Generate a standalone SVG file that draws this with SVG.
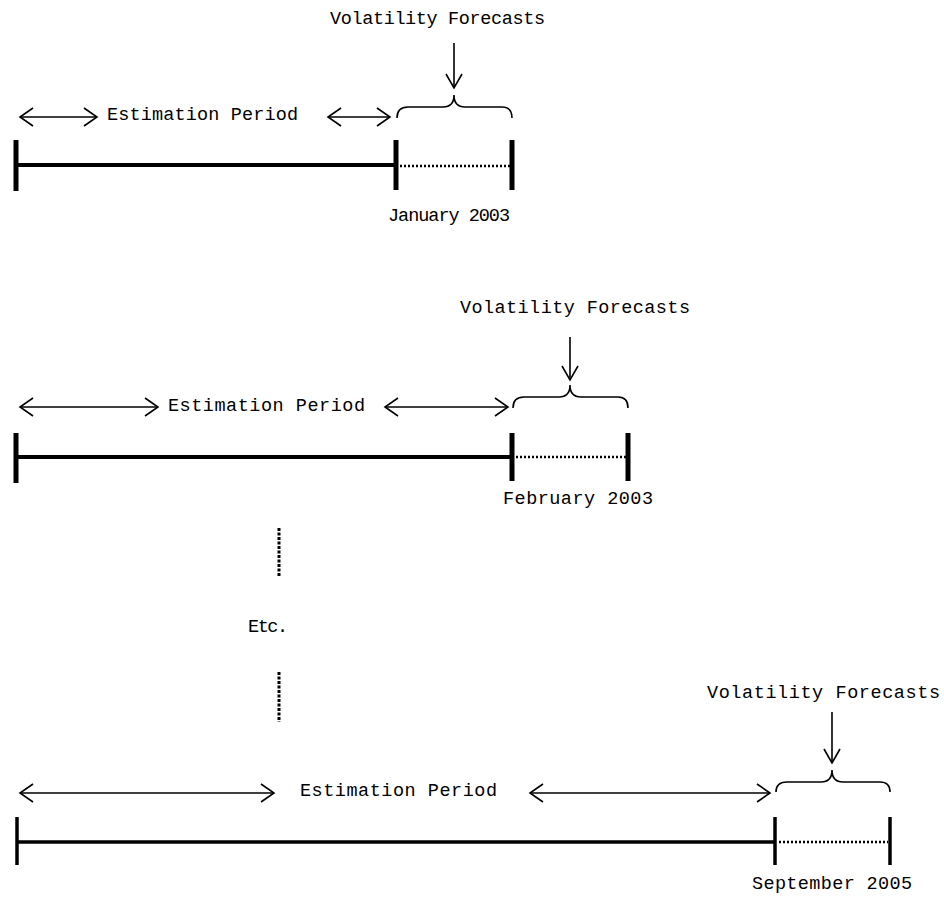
<svg xmlns="http://www.w3.org/2000/svg" width="944" height="899" viewBox="0 0 944 899">
<style>
text{font-family:"Liberation Mono","DejaVu Sans Mono",monospace;fill:#000}
.lbl{font-size:18.5px}
.tick{stroke:#000;stroke-width:5;fill:none}
.main{stroke:#000;stroke-width:4;fill:none}
.dot{stroke:#000;stroke-width:2.5;stroke-dasharray:2 2;fill:none}
.thin{stroke:#000;stroke-width:1.6;fill:none;stroke-linejoin:miter}
.vdot{stroke:#000;stroke-width:3;stroke-dasharray:3 1.5;fill:none}
</style>
<rect width="944" height="899" fill="#fff"/>

<g id="panel1">
  <line class="tick" x1="16" y1="140" x2="16" y2="191"/>
  <line class="main" x1="16" y1="165" x2="395" y2="165"/>
  <line class="tick" x1="396" y1="140" x2="396" y2="190"/>
  <line class="dot" x1="400" y1="166" x2="510" y2="166"/>
  <line class="tick" x1="512" y1="140" x2="512" y2="190"/>
  <text class="lbl" x="107" y="120" textLength="191" lengthAdjust="spacing">Estimation Period</text>
  <text class="lbl" x="330" y="24" textLength="215" lengthAdjust="spacing">Volatility Forecasts</text>
  <text class="lbl" x="388" y="221" textLength="122" lengthAdjust="spacing">January 2003</text>
  <g class="thin">
    <line x1="20" y1="117" x2="97" y2="117"/>
    <polyline points="33,108 20,117 33,126"/>
    <polyline points="84,108 97,117 84,126"/>
    <line x1="328" y1="117" x2="390" y2="117"/>
    <polyline points="341,108 328,117 341,126"/>
    <polyline points="377,108 390,117 377,126"/>
    <line x1="454" y1="43" x2="454" y2="88"/>
    <polyline points="446,74 454,88 462,74"/>
    <path d="M397,118 Q397,107 408,107 L443,107 Q454,107 454,95 Q454,107 465,107 L502,107 Q512,107 512,118"/>
  </g>
</g>

<g id="panel2">
  <line class="tick" x1="16" y1="433" x2="16" y2="483"/>
  <line class="main" x1="16" y1="457" x2="511" y2="457"/>
  <line class="tick" x1="512" y1="433" x2="512" y2="481"/>
  <line class="dot" x1="516" y1="457" x2="626" y2="457"/>
  <line class="tick" x1="628" y1="433" x2="628" y2="481"/>
  <text class="lbl" x="168" y="411" textLength="197" lengthAdjust="spacing">Estimation Period</text>
  <text class="lbl" x="460" y="313" textLength="230" lengthAdjust="spacing">Volatility Forecasts</text>
  <text class="lbl" x="503" y="504" textLength="150" lengthAdjust="spacing">February 2003</text>
  <g class="thin">
    <line x1="20" y1="407" x2="158" y2="407"/>
    <polyline points="33,398 20,407 33,416"/>
    <polyline points="145,398 158,407 145,416"/>
    <line x1="385" y1="407" x2="508" y2="407"/>
    <polyline points="398,398 385,407 398,416"/>
    <polyline points="495,398 508,407 495,416"/>
    <line x1="570" y1="337" x2="570" y2="380"/>
    <polyline points="562,366 570,380 578,366"/>
    <path d="M513,408 Q513,397 524,397 L559,397 Q570,397 570,385 Q570,397 581,397 L618,397 Q628,397 628,408"/>
  </g>
</g>

<g id="etc">
  <line class="vdot" x1="279" y1="528" x2="279" y2="576"/>
  <text class="lbl" x="248" y="632" textLength="40" lengthAdjust="spacing">Etc.</text>
  <line class="vdot" x1="279" y1="672" x2="279" y2="722"/>
</g>

<g id="panel3">
  <line class="tick" x1="17" y1="817" x2="17" y2="865" style="stroke-width:3.5"/>
  <line class="main" x1="17" y1="842" x2="774" y2="842" style="stroke-width:3.5"/>
  <line class="tick" x1="775" y1="817" x2="775" y2="865" style="stroke-width:3.5"/>
  <line class="dot" x1="779" y1="842" x2="888" y2="842"/>
  <line class="tick" x1="890" y1="817" x2="890" y2="865" style="stroke-width:3.5"/>
  <text class="lbl" x="300" y="796" textLength="197" lengthAdjust="spacing">Estimation Period</text>
  <text class="lbl" x="707" y="698" textLength="233" lengthAdjust="spacing">Volatility Forecasts</text>
  <text class="lbl" x="752" y="889" textLength="160" lengthAdjust="spacing">September 2005</text>
  <g class="thin">
    <line x1="20" y1="793" x2="274" y2="793"/>
    <polyline points="33,784 20,793 33,802"/>
    <polyline points="261,784 274,793 261,802"/>
    <line x1="530" y1="793" x2="770" y2="793"/>
    <polyline points="543,784 530,793 543,802"/>
    <polyline points="757,784 770,793 757,802"/>
    <line x1="832" y1="712" x2="832" y2="763"/>
    <polyline points="824,749 832,763 840,749"/>
    <path d="M776,792 Q776,782 787,782 L821,782 Q832,782 832,770 Q832,782 843,782 L880,782 Q890,782 890,792"/>
  </g>
</g>
</svg>
